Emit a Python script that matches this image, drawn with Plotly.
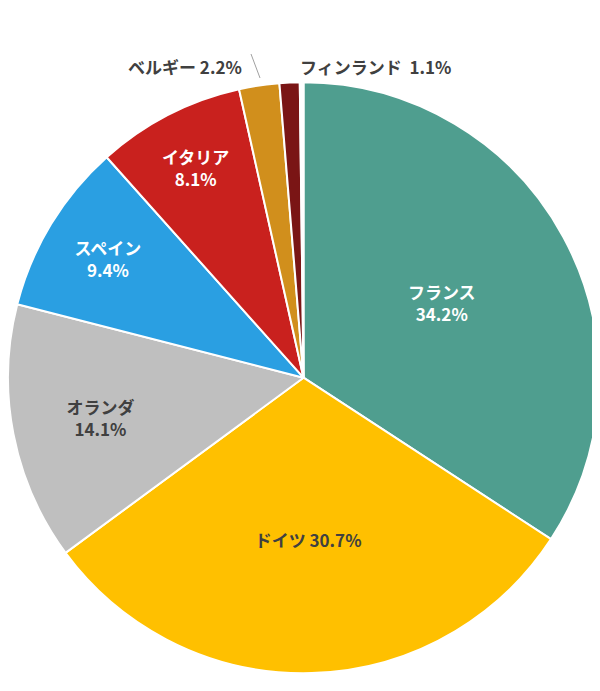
import plotly.graph_objects as go

countries = ["フランス", "ドイツ", "オランダ", "スペイン", "イタリア", "ベルギー", "フィンランド", "その他"]
shares = [34.2, 30.7, 14.1, 9.4, 8.1, 2.2, 1.1, 0.2]
colors = ["#4F9E8F", "#FFC000", "#BFBFBF", "#2A9FE2", "#C9211E", "#D18F1C", "#7A1515", "#FFFFFF"]
inside_text = ["<b>フランス<br>34.2%</b>", "<b>ドイツ 30.7%</b>", "<b>オランダ<br>14.1%</b>",
               "<b>スペイン<br>9.4%</b>", "<b>イタリア<br>8.1%</b>", "", "", ""]
text_colors = ["white", "#404040", "#404040", "white", "white", "white", "white", "white"]

W, H = 600, 691
fig = go.Figure(go.Pie(
    labels=countries, values=shares, sort=False, direction="clockwise", rotation=0,
    marker=dict(colors=colors, line=dict(color="white", width=2)),
    text=inside_text, textinfo="text", textposition="inside",
    insidetextorientation="horizontal",
    insidetextfont=dict(color=text_colors, size=17, family="Noto Sans CJK JP"),
    domain=dict(x=[0, 0.985], y=[0.03, 0.9]),
    showlegend=False, hoverinfo="label+percent",
))

fig.add_annotation(x=236 / W, y=1 - 44 / H, xref="paper", yref="paper", xanchor="right",
                   text="<b>ベルギー 2.2%</b>", showarrow=False,
                   font=dict(size=17, color="#404040", family="Noto Sans CJK JP"))
fig.add_annotation(x=290 / W, y=1 - 44 / H, xref="paper", yref="paper", xanchor="left",
                   text="<b>フィンランド  1.1%</b>", showarrow=False,
                   font=dict(size=17, color="#404040", family="Noto Sans CJK JP"))
fig.add_shape(type="line", xref="paper", yref="paper",
              x0=243 / W, y0=1 - 46 / H, x1=252 / W, y1=1 - 70 / H,
              line=dict(color="#A0A0A0", width=1))

fig.update_layout(width=W, height=H, autosize=False, margin=dict(l=0, r=0, t=0, b=0),
                  paper_bgcolor="white", plot_bgcolor="white",
                  font=dict(family="Noto Sans CJK JP", size=16, color="#404040"),
                  uniformtext=dict(minsize=16, mode="show"))
fig.write_html("out.html")
